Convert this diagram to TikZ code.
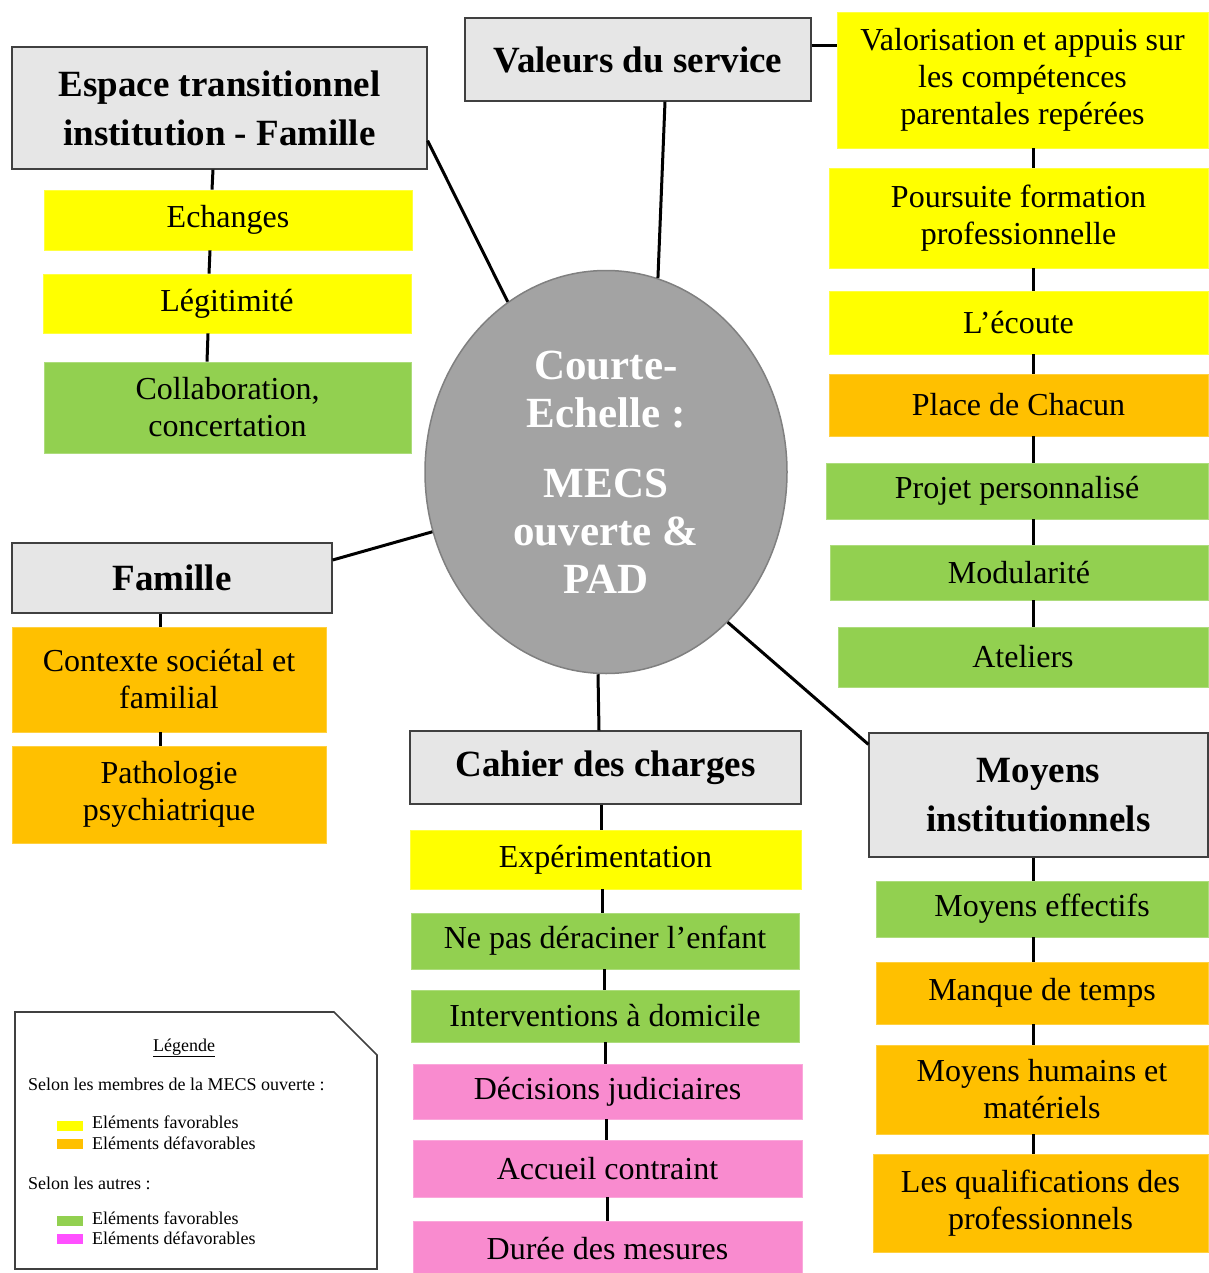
\documentclass[tikz,border=0pt]{standalone}
\usepackage{fontspec}
\setmainfont{Liberation Serif}
\usepackage{tikz}
\usetikzlibrary{shapes,positioning,calc}
\definecolor{fyellow}{RGB}{255,255,0}
\definecolor{forange}{RGB}{255,192,0}
\definecolor{fgreen}{RGB}{146,208,80}
\definecolor{fpink}{RGB}{249,139,207}
\definecolor{fmagenta}{RGB}{255,80,255}
\definecolor{hgrey}{RGB}{230,230,230}
\definecolor{cgrey}{RGB}{163,163,163}
\tikzset{
    hbox/.style={draw=black!75, fill=hgrey, line width=1.2pt, inner sep=0pt,
                 align=center, font=\fontsize{37}{49}\selectfont\bfseries},
    cbox/.style={draw=#1!75!white, fill=#1, line width=0.8pt, inner sep=0pt,
                 align=center, font=\fontsize{32}{37}\selectfont},
    link/.style={line width=3pt, black},
    swatch/.style={fill=#1, minimum width=26, minimum height=10, inner sep=0pt},
    legtext/.style={font=\fontsize{18}{20}\selectfont, inner sep=0pt, anchor=west},
}

\begin{document}
\begin{tikzpicture}[x=1pt, y=-1pt]
    \useasboundingbox (0,0) rectangle (1208,1273);

    % centre
    \node[ellipse, draw=black!50, line width=1.5pt, fill=cgrey, text=white,
          minimum width=362, minimum height=403, inner sep=0pt, align=center,
          font=\fontsize{43}{48}\selectfont\bfseries] (centre) at (606,472)
          {Courte-\\Echelle :\\[22pt]MECS\\ouverte \&\\PAD};

    % espace transitionnel
    \node[hbox, minimum width=415, minimum height=122] (esp) at (219.5,108) {Espace transitionnel\\institution - Famille};
    \node[cbox=fyellow, minimum width=368, minimum height=60] (ech) at (228,220) {Echanges};
    \node[cbox=fyellow, minimum width=368, minimum height=59] (legi) at (227,303.5) {Légitimité};
    \node[cbox=fgreen, minimum width=367, minimum height=91] (coll) at (227.5,407.5) {Collaboration,\\concertation};

    % valeurs du service
    \node[hbox, minimum width=346, minimum height=83] (val) at (638,59.5) {Valeurs du service};
    \node[cbox=fyellow, minimum width=371, minimum height=136] (valo) at (1022.5,80) {Valorisation et appuis sur\\les compétences\\parentales repérées};
    \node[cbox=fyellow, minimum width=379, minimum height=100] (pour) at (1018.5,218) {Poursuite formation\\professionnelle};
    \node[cbox=fyellow, minimum width=379, minimum height=63] (ecou) at (1018.5,322.5) {L’écoute};
    \node[cbox=forange, minimum width=379, minimum height=62] (place) at (1018.5,405) {Place de Chacun};
    \node[cbox=fgreen, minimum width=382, minimum height=56] (proj) at (1017,491) {Projet personnalisé};
    \node[cbox=fgreen, minimum width=378, minimum height=55] (modu) at (1019,572.5) {Modularité};
    \node[cbox=fgreen, minimum width=370, minimum height=60] (atel) at (1023,657) {Ateliers};

    % famille
    \node[hbox, minimum width=320, minimum height=70] (fam) at (172,578) {Famille};
    \node[cbox=forange, minimum width=314, minimum height=105] (ctx) at (169,679.5) {Contexte sociétal et\\familial};
    \node[cbox=forange, minimum width=314, minimum height=97] (patho) at (169,794.5) {Pathologie\\psychiatrique};

    % cahier des charges
    \node[hbox, minimum width=391, minimum height=73] (cah) at (605.5,767.5) {Cahier des charges};
    \node[cbox=fyellow, minimum width=391, minimum height=59] (expe) at (605.5,859.5) {Expérimentation};
    \node[cbox=fgreen, minimum width=388, minimum height=56] (depl) at (605,941) {Ne pas déraciner l’enfant};
    \node[cbox=fgreen, minimum width=388, minimum height=52] (inter) at (605,1016) {Interventions à domicile};
    \node[cbox=fpink, minimum width=389, minimum height=55] (deci) at (607.5,1091.5) {Décisions judiciaires};
    \node[cbox=fpink, minimum width=389, minimum height=57] (accu) at (607.5,1168.5) {Accueil contraint};
    \node[cbox=fpink, minimum width=389, minimum height=56] (duree) at (607.5,1249) {Durée des mesures};

    % moyens institutionnels
    \node[hbox, minimum width=339, minimum height=124] (moy) at (1038.5,795) {Moyens\\institutionnels};
    \node[cbox=fgreen, minimum width=332, minimum height=56] (meff) at (1042,909) {Moyens effectifs};
    \node[cbox=forange, minimum width=332, minimum height=62] (manq) at (1042,993) {Manque de temps};
    \node[cbox=forange, minimum width=332, minimum height=89] (mhum) at (1042,1089.5) {Moyens humains et\\matériels};
    \node[cbox=forange, minimum width=335, minimum height=98] (qual) at (1040.5,1203) {Les qualifications des\\professionnels};

    % liens vers le centre
    \draw[link] (val.south -| 665,0) -- (centre.75);
    \draw[link] ($(esp.south east)+(0,-29)$) -- (centre.120);
    \draw[link] ($(fam.east)+(0,-18)$) -- (centre.199);
    \draw[link] (cah.north -| 599,0) -- (centre.south -| 598,0);
    \draw[link] ($(moy.north west)+(0,12)$) -- (centre.-51);

    % liens des branches
    \draw[link] ($(val.east)+(0,-14)$) -- ($(val.east -| valo.west)+(0,-14)$);
    \draw[link] (esp.south -| 213,0) -- (ech.north -| 212,0);
    \draw[link] (ech.south -| 210,0) -- (legi.north -| 209,0);
    \draw[link] (legi.south -| 208,0) -- (coll.north -| 207,0);
    \draw[link] (valo.south -| 1033,0) -- (pour.north -| 1033,0);
    \draw[link] (pour.south -| 1033,0) -- (ecou.north -| 1033,0);
    \draw[link] (ecou.south -| 1033,0) -- (place.north -| 1033,0);
    \draw[link] (place.south -| 1033,0) -- (proj.north -| 1033,0);
    \draw[link] (proj.south -| 1033,0) -- (modu.north -| 1033,0);
    \draw[link] (modu.south -| 1033,0) -- (atel.north -| 1033,0);
    \draw[link] (fam.south -| 160,0) -- (ctx.north -| 160,0);
    \draw[link] (ctx.south -| 160,0) -- (patho.north -| 160,0);
    \draw[link] (cah.south -| 601,0) -- (expe.north -| 601,0);
    \draw[link] (expe.south -| 602,0) -- (depl.north -| 602,0);
    \draw[link] (depl.south -| 604,0) -- (inter.north -| 604,0);
    \draw[link] (inter.south -| 605,0) -- (deci.north -| 605,0);
    \draw[link] (deci.south -| 606,0) -- (accu.north -| 606,0);
    \draw[link] (accu.south -| 607,0) -- (duree.north -| 607,0);
    \draw[link] (moy.south -| 1033,0) -- (meff.north -| 1033,0);
    \draw[link] (meff.south -| 1033,0) -- (manq.north -| 1033,0);
    \draw[link] (manq.south -| 1033,0) -- (mhum.north -| 1033,0);
    \draw[link] (mhum.south -| 1033,0) -- (qual.north -| 1033,0);

    % legende
    \draw[black!75, line width=1.6pt] (15,1012) -- (334,1012) -- (377,1055) -- (377,1269) -- (15,1269) -- cycle;
    \node[font=\fontsize{18}{20}\selectfont, inner sep=0pt] (ltitle) at (184,1048) {\underline{Légende}};
    \node[legtext] (lsel1) at (28,1084) {Selon les membres de la MECS ouverte :};
    \node[swatch=fyellow, anchor=west] (sw1) at (57,1126) {};
    \node[swatch=forange, anchor=west] (sw2) at (57,1144) {};
    \node[legtext] (lt1) at (92,1122) {Eléments favorables};
    \node[legtext] (lt2) at (92,1143) {Eléments défavorables};
    \node[legtext] (lsel2) at (28,1183) {Selon les autres :};
    \node[swatch=fgreen, anchor=west] (sw3) at (57,1221) {};
    \node[swatch=fmagenta, anchor=west] (sw4) at (57,1239) {};
    \node[legtext] (lt3) at (92,1218) {Eléments favorables};
    \node[legtext] (lt4) at (92,1238) {Eléments défavorables};
\end{tikzpicture}
\end{document}
